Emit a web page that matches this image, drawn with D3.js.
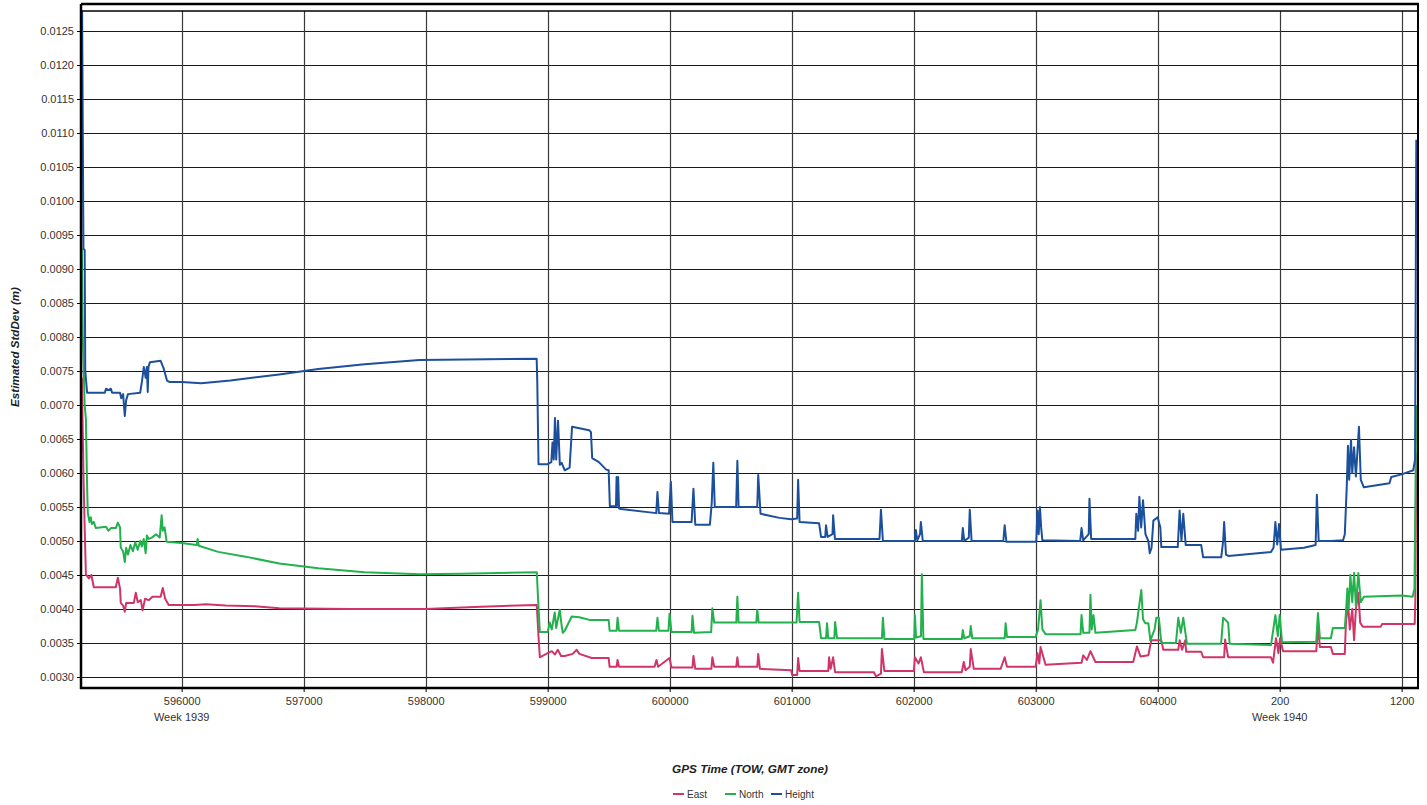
<!DOCTYPE html>
<html>
<head>
<meta charset="utf-8">
<script src="https://cdn.jsdelivr.net/npm/d3@7"></script>
<style>
  html, body { margin: 0; padding: 0; background: #fff; }
  svg { display: block; }
  text { font-family: "Liberation Sans", Arial, sans-serif; }
</style>
</head>
<body>
<svg id="chart" width="1427" height="805"></svg>
<script>
// ---------- DATA (GPS time in seconds since start of week 1939, value in metres) ----------
const seriesNames = ["East", "North", "Height"];
const seriesColors = ["#d0356a", "#23b14d", "#1c4f9c"];

const xTickValues = [596000, 597000, 598000, 599000, 600000, 601000, 602000, 603000, 604000, 605000, 606000];
const weekLength = 604800;
const weekLabels = [{ t: 596000, label: "Week 1939" }, { t: 605000, label: "Week 1940" }];
const yTickValues = [0.0030, 0.0035, 0.0040, 0.0045, 0.0050, 0.0055, 0.0060, 0.0065, 0.0070, 0.0075, 0.0080,
  0.0085, 0.0090, 0.0095, 0.0100, 0.0105, 0.0110, 0.0115, 0.0120, 0.0125];

const heightData = [
  [595182, 0.0135], [595195, 0.0093], [595205, 0.00928], [595210, 0.0075], [595225, 0.00718], [595370, 0.00718],
  [595380, 0.00724], [595400, 0.00722], [595420, 0.00724], [595430, 0.00718], [595495, 0.00718], [595505, 0.00710],
  [595520, 0.00716], [595534, 0.00684], [595545, 0.00707], [595560, 0.00716], [595660, 0.00718], [595675, 0.00735],
  [595690, 0.00756], [595705, 0.00740], [595715, 0.00756], [595722, 0.00719], [595728, 0.00756], [595740, 0.00763],
  [595828, 0.00765], [595850, 0.00755], [595880, 0.00736], [595900, 0.00734], [596000, 0.00734], [596160, 0.00732],
  [596400, 0.00736], [596800, 0.00745], [597120, 0.00753], [597500, 0.00760], [597950, 0.00766], [598910, 0.00768],
  [598915, 0.00734], [598925, 0.00613], [599000, 0.00613], [599030, 0.00616], [599040, 0.00645], [599050, 0.00620],
  [599060, 0.00681], [599070, 0.00620], [599085, 0.00677], [599100, 0.00612], [599115, 0.00615], [599140, 0.00604],
  [599180, 0.00608], [599200, 0.00668], [599340, 0.00663], [599355, 0.00660], [599365, 0.00622], [599420, 0.00616],
  [599480, 0.00605], [599500, 0.00604], [599510, 0.00551], [599560, 0.00551], [599565, 0.00594], [599570, 0.00552],
  [599578, 0.00594], [599585, 0.00548], [599600, 0.00547], [599890, 0.00541], [599900, 0.00572], [599912, 0.00541],
  [599995, 0.00540], [600010, 0.00587], [600023, 0.00528], [600180, 0.00528], [600195, 0.00577], [600210, 0.00524],
  [600330, 0.00524], [600345, 0.00556], [600358, 0.00615], [600370, 0.00550], [600545, 0.00550], [600555, 0.00618],
  [600565, 0.00550], [600718, 0.00550], [600726, 0.00597], [600745, 0.00540], [600900, 0.00534], [600996, 0.00532],
  [601045, 0.00533], [601053, 0.00590], [601065, 0.00528], [601225, 0.00526], [601241, 0.00506], [601275, 0.00506],
  [601282, 0.00523], [601295, 0.00506], [601335, 0.00510], [601340, 0.00538], [601355, 0.00503], [601720, 0.00503],
  [601732, 0.00546], [601748, 0.00500], [602010, 0.00500], [602018, 0.00516], [602030, 0.00501], [602052, 0.00510],
  [602059, 0.00528], [602075, 0.00500], [602395, 0.00500], [602403, 0.00519], [602415, 0.00500], [602452, 0.00505],
  [602460, 0.00546], [602475, 0.00500], [602735, 0.00500], [602746, 0.00523], [602760, 0.00499], [603005, 0.00499],
  [603015, 0.00545], [603025, 0.00510], [603035, 0.00550], [603045, 0.00520], [603055, 0.00501], [603365, 0.00500],
  [603376, 0.00519], [603390, 0.00501], [603435, 0.00510], [603441, 0.00562], [603455, 0.00503], [603817, 0.00503],
  [603825, 0.00540], [603840, 0.00515], [603850, 0.00565], [603865, 0.00520], [603880, 0.00560], [603900, 0.00510],
  [603924, 0.00500], [603935, 0.00482], [603950, 0.00490], [603965, 0.00530], [604000, 0.00535], [604022, 0.00520],
  [604030, 0.00491], [604165, 0.00491], [604180, 0.00545], [604195, 0.00500], [604210, 0.00540], [604230, 0.00494],
  [604357, 0.00494], [604373, 0.00476], [604521, 0.00476], [604537, 0.00500], [604545, 0.00528], [604560, 0.00480],
  [604580, 0.00478], [604929, 0.00484], [604950, 0.00490], [604965, 0.00528], [604980, 0.00495], [604995, 0.00525],
  [605011, 0.00487], [605200, 0.00490], [605295, 0.00494], [605305, 0.00568], [605320, 0.00500], [605420, 0.00500],
  [605520, 0.00501], [605534, 0.00510], [605550, 0.00580], [605560, 0.00640], [605570, 0.00590], [605585, 0.00649],
  [605595, 0.00600], [605610, 0.00638], [605625, 0.00595], [605650, 0.00668], [605665, 0.00590], [605690, 0.00579],
  [605900, 0.00585], [605915, 0.00594], [606000, 0.00598], [606095, 0.00604], [606110, 0.00620], [606120, 0.0109]
];

const northData = [
  [595182, 0.0093], [595190, 0.0080], [595205, 0.0070], [595215, 0.0068], [595225, 0.0058], [595231, 0.00541],
  [595245, 0.00528], [595255, 0.00535], [595264, 0.00525], [595280, 0.00528], [595297, 0.00519], [595380, 0.00521],
  [595400, 0.00515], [595420, 0.00519], [595460, 0.00519], [595477, 0.00527], [595495, 0.00520], [595501, 0.00490],
  [595520, 0.00485], [595534, 0.00469], [595545, 0.00490], [595560, 0.00480], [595580, 0.00494], [595600, 0.00485],
  [595620, 0.00498], [595640, 0.00487], [595660, 0.00500], [595673, 0.00492], [595689, 0.00503], [595705, 0.00482],
  [595715, 0.00508], [595730, 0.00503], [595755, 0.00505], [595790, 0.00510], [595820, 0.00505], [595836, 0.00538],
  [595845, 0.00515], [595860, 0.00520], [595877, 0.00499], [596000, 0.00497], [596123, 0.00494], [596131, 0.00503],
  [596140, 0.00493], [596300, 0.00484], [596523, 0.00477], [596800, 0.00467], [597120, 0.00460], [597500, 0.00454],
  [597950, 0.00451], [598300, 0.00452], [598911, 0.00454], [598920, 0.00420], [598936, 0.00366], [599000, 0.00366],
  [599017, 0.00380], [599034, 0.00370], [599058, 0.00395], [599070, 0.00372], [599099, 0.00399], [599115, 0.00375],
  [599124, 0.00365], [599140, 0.00368], [599197, 0.00389], [599260, 0.00388], [599344, 0.00384], [599500, 0.00384],
  [599508, 0.00368], [599565, 0.00368], [599573, 0.00387], [599585, 0.00368], [599890, 0.00368], [599900, 0.00387],
  [599912, 0.00368], [599990, 0.00368], [599999, 0.00393], [600015, 0.00366], [600180, 0.00366], [600187, 0.00390],
  [600200, 0.00365], [600340, 0.00366], [600350, 0.00401], [600365, 0.00380], [600546, 0.00380], [600555, 0.00418],
  [600565, 0.00380], [600710, 0.00380], [600718, 0.00399], [600730, 0.00380], [601040, 0.00380], [601053, 0.00424],
  [601065, 0.00381], [601225, 0.00381], [601241, 0.00357], [601282, 0.00357], [601290, 0.00379], [601300, 0.00357],
  [601350, 0.00357], [601356, 0.00381], [601372, 0.00357], [601740, 0.00357], [601748, 0.00387], [601760, 0.00356],
  [602005, 0.00356], [602010, 0.00391], [602020, 0.00358], [602060, 0.00360], [602067, 0.00451], [602080, 0.00356],
  [602395, 0.00356], [602403, 0.00369], [602415, 0.00357], [602460, 0.00360], [602468, 0.00375], [602480, 0.00357],
  [602746, 0.00357], [602754, 0.00379], [602765, 0.00359], [603000, 0.00359], [603020, 0.00370], [603040, 0.00413],
  [603055, 0.00370], [603081, 0.00363], [603368, 0.00363], [603376, 0.00391], [603390, 0.00365], [603441, 0.00365],
  [603449, 0.00421], [603460, 0.00370], [603474, 0.00391], [603490, 0.00365], [603817, 0.00369], [603830, 0.00380],
  [603866, 0.00428], [603880, 0.00385], [603899, 0.00379], [603924, 0.00379], [603940, 0.00354], [603975, 0.00370],
  [603989, 0.00387], [604010, 0.00387], [604030, 0.00350], [604150, 0.00350], [604169, 0.00387], [604190, 0.00365],
  [604210, 0.00387], [604240, 0.00349], [604520, 0.00349], [604537, 0.00387], [604578, 0.00380], [604590, 0.00349],
  [604929, 0.00347], [604965, 0.00391], [604985, 0.00360], [605000, 0.00391], [605020, 0.00351], [605300, 0.00352],
  [605314, 0.00394], [605330, 0.00357], [605420, 0.00357], [605436, 0.00372], [605534, 0.00372], [605543, 0.00394],
  [605555, 0.00430], [605565, 0.00400], [605580, 0.00450], [605595, 0.00410], [605610, 0.00453], [605625, 0.00405],
  [605645, 0.00453], [605665, 0.00410], [605690, 0.00418], [606000, 0.00420], [606090, 0.00418], [606105, 0.00430],
  [606120, 0.00700]
];

const eastData = [
  [595182, 0.0074], [595195, 0.0060], [595205, 0.0052], [595215, 0.00451], [595240, 0.00445], [595260, 0.00450],
  [595280, 0.00432], [595460, 0.00432], [595477, 0.00446], [595495, 0.00430], [595501, 0.00409], [595520, 0.00405],
  [595534, 0.00396], [595545, 0.00409], [595608, 0.00409], [595624, 0.00424], [595640, 0.00410], [595665, 0.00413],
  [595680, 0.00398], [595700, 0.00415], [595730, 0.00413], [595760, 0.00418], [595828, 0.00418], [595845, 0.00431],
  [595865, 0.00415], [595894, 0.00406], [596100, 0.00406], [596200, 0.00407], [596360, 0.00405], [596600, 0.00404],
  [596800, 0.00401], [597380, 0.00400], [598000, 0.00400], [598400, 0.00403], [598911, 0.00406], [598925, 0.00360],
  [598936, 0.00329], [599000, 0.00335], [599034, 0.00338], [599060, 0.00333], [599083, 0.00340], [599110, 0.00331],
  [599140, 0.00331], [599205, 0.00334], [599238, 0.00340], [599260, 0.00334], [599361, 0.00328], [599500, 0.00328],
  [599508, 0.00315], [599565, 0.00315], [599573, 0.00325], [599585, 0.00315], [599876, 0.00315], [599892, 0.00325],
  [599905, 0.00315], [599999, 0.00328], [600015, 0.00314], [600187, 0.00314], [600195, 0.00331], [600210, 0.00312],
  [600342, 0.00312], [600350, 0.00329], [600365, 0.00315], [600546, 0.00315], [600555, 0.00329], [600565, 0.00315],
  [600718, 0.00315], [600726, 0.00334], [600740, 0.00312], [600996, 0.00310], [601004, 0.00303], [601045, 0.00303],
  [601053, 0.00328], [601065, 0.00309], [601300, 0.00309], [601307, 0.00329], [601320, 0.00312], [601340, 0.00329],
  [601356, 0.00307], [601675, 0.00307], [601691, 0.00301], [601732, 0.00305], [601740, 0.00341], [601760, 0.00309],
  [602002, 0.00309], [602010, 0.00329], [602040, 0.00320], [602059, 0.00329], [602084, 0.00307], [602394, 0.00307],
  [602411, 0.00322], [602425, 0.00310], [602460, 0.00315], [602468, 0.00341], [602493, 0.00312], [602713, 0.00312],
  [602746, 0.00329], [602765, 0.00315], [603000, 0.00315], [603015, 0.00335], [603030, 0.00320], [603040, 0.00344],
  [603081, 0.00318], [603376, 0.00321], [603390, 0.00332], [603420, 0.00325], [603449, 0.00338], [603490, 0.00322],
  [603800, 0.00322], [603830, 0.00345], [603860, 0.00330], [603924, 0.00332], [603948, 0.00354], [604030, 0.00354],
  [604046, 0.00340], [604169, 0.00340], [604180, 0.00354], [604200, 0.00340], [604226, 0.00354], [604234, 0.00337],
  [604357, 0.00337], [604373, 0.00329], [604545, 0.00329], [604553, 0.00355], [604578, 0.00329], [604929, 0.00329],
  [604946, 0.00321], [604970, 0.00357], [604990, 0.00335], [605003, 0.00357], [605028, 0.00338], [605300, 0.00338],
  [605314, 0.00374], [605330, 0.00344], [605420, 0.00344], [605436, 0.00334], [605534, 0.00334], [605543, 0.00379],
  [605560, 0.00410], [605575, 0.00370], [605595, 0.00400], [605610, 0.00354], [605625, 0.00400], [605645, 0.00424],
  [605660, 0.00380], [605681, 0.00374], [605829, 0.00374], [605840, 0.00378], [606107, 0.00378], [606112, 0.00410],
  [606120, 0.00630]
];

const seriesData = [eastData, northData, heightData];

// ---------- LAYOUT ----------
const svg = d3.select("#chart");
const plot = { left: 81, right: 1418, top: 11, bottom: 688, frameTop: 4 };

const x = d3.scaleLinear().domain([595175, 606134]).range([plot.left, plot.right]);
const y = d3.scaleLinear().domain([0.0030, 0.0125]).range([677, 31]);

svg.append("rect").attr("width", 1427).attr("height", 805).attr("fill", "#fff");

// grid
const grid = svg.append("g");
grid.selectAll("line.h").data(yTickValues).enter().append("line")
  .attr("x1", plot.left).attr("x2", plot.right)
  .attr("y1", d => Math.round(y(d)) + 0.5).attr("y2", d => Math.round(y(d)) + 0.5)
  .attr("stroke", "#1a1a1a").attr("stroke-width", 1.2);
grid.selectAll("line.v").data(xTickValues).enter().append("line")
  .attr("y1", plot.top).attr("y2", plot.bottom)
  .attr("x1", d => Math.round(x(d)) + 0.5).attr("x2", d => Math.round(x(d)) + 0.5)
  .attr("stroke", "#3a3a3a").attr("stroke-width", 1.2);

// clip
svg.append("clipPath").attr("id", "clip").append("rect")
  .attr("x", plot.left).attr("y", plot.top)
  .attr("width", plot.right - plot.left).attr("height", plot.bottom - plot.top);

const line = d3.line().x(d => x(d[0])).y(d => y(d[1]));
const lines = svg.append("g").attr("clip-path", "url(#clip)");
seriesData.forEach((data, i) => {
  lines.append("path").datum(data)
    .attr("d", line)
    .attr("fill", "none")
    .attr("stroke", seriesColors[i])
    .attr("stroke-width", 2)
    .attr("stroke-linejoin", "round");
});

// frame
svg.append("line").attr("x1", plot.left).attr("x2", plot.right + 1)
  .attr("y1", plot.frameTop).attr("y2", plot.frameTop).attr("stroke", "#000").attr("stroke-width", 2.5);
svg.append("line").attr("x1", plot.left).attr("x2", plot.right)
  .attr("y1", plot.top).attr("y2", plot.top).attr("stroke", "#000").attr("stroke-width", 1.5);
svg.append("line").attr("x1", plot.right).attr("x2", plot.right)
  .attr("y1", plot.frameTop).attr("y2", plot.bottom).attr("stroke", "#000").attr("stroke-width", 2);

// axes
const yAxis = d3.axisLeft(y).tickValues(yTickValues).tickFormat(d3.format(".4f")).tickSize(4).tickPadding(3);
const gy = svg.append("g").attr("transform", `translate(${plot.left},0)`).call(yAxis);
gy.select(".domain").remove();
gy.append("line").attr("x1", 0).attr("x2", 0).attr("y1", plot.frameTop).attr("y2", plot.bottom + 1)
  .attr("stroke", "#000").attr("stroke-width", 2.5);
gy.selectAll(".tick line").attr("stroke", "#000");
gy.selectAll(".tick text").attr("font-size", 11).attr("fill", "#333")
  .attr("font-family", "Liberation Sans, Arial, sans-serif");

const xAxis = d3.axisBottom(x).tickValues(xTickValues)
  .tickFormat(d => String(d >= weekLength ? d - weekLength : d)).tickSize(4).tickPadding(5);
const gx = svg.append("g").attr("transform", `translate(0,${plot.bottom})`).call(xAxis);
gx.select(".domain").remove();
gx.append("line").attr("x1", plot.left - 1).attr("x2", plot.right + 1).attr("y1", 0).attr("y2", 0)
  .attr("stroke", "#000").attr("stroke-width", 2.5);
gx.selectAll(".tick line").attr("stroke", "#000");
gx.selectAll(".tick text").attr("font-size", 11).attr("fill", "#333")
  .attr("font-family", "Liberation Sans, Arial, sans-serif");

svg.append("g").selectAll("text").data(weekLabels).enter().append("text")
  .attr("x", d => x(d.t)).attr("y", 721)
  .attr("text-anchor", "middle").attr("font-size", 11).attr("fill", "#333")
  .text(d => d.label);

// axis titles
svg.append("text")
  .attr("transform", "translate(19,347) rotate(-90)")
  .attr("text-anchor", "middle").attr("font-size", 11.6).attr("font-weight", "bold").attr("font-style", "italic")
  .attr("fill", "#222")
  .text("Estimated StdDev (m)");

svg.append("text")
  .attr("x", 750).attr("y", 773)
  .attr("text-anchor", "middle").attr("font-size", 11.8).attr("font-weight", "bold").attr("font-style", "italic")
  .attr("fill", "#222")
  .text("GPS Time (TOW, GMT zone)");

// legend
const legendX = [673, 725, 771];
const legend = svg.append("g");
seriesNames.forEach((name, i) => {
  const g = legend.append("g").attr("transform", `translate(${legendX[i]},794)`);
  g.append("line").attr("x1", 0).attr("x2", 11).attr("y1", 0).attr("y2", 0)
    .attr("stroke", seriesColors[i]).attr("stroke-width", 2);
  g.append("text").attr("x", 14).attr("y", 3.5).attr("font-size", 10).attr("fill", "#333").text(name);
});
</script>
</body>
</html>
